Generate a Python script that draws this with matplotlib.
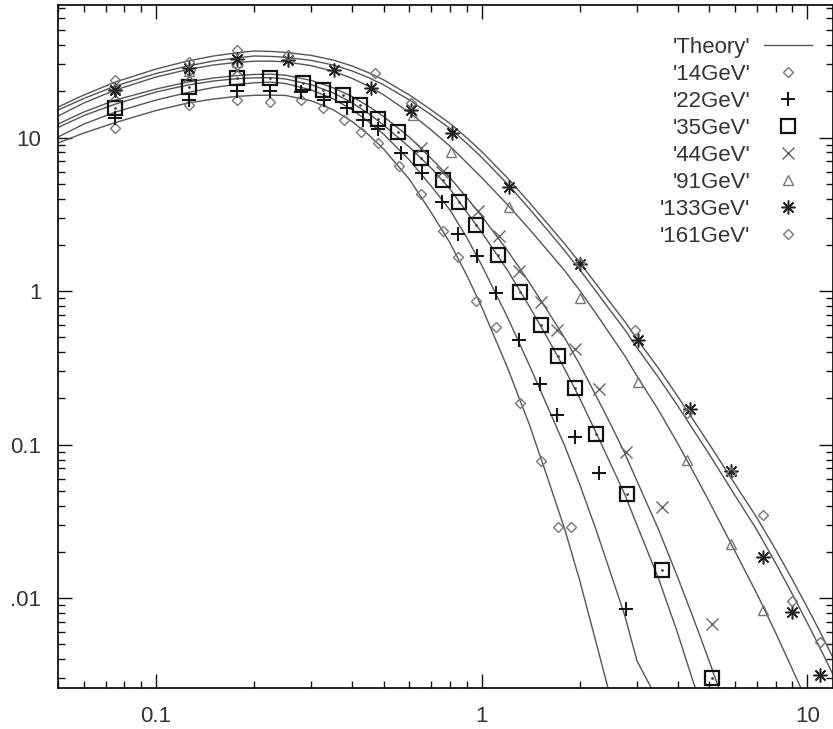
import matplotlib
matplotlib.use("Agg")
import matplotlib.pyplot as plt
from matplotlib.ticker import LogLocator, NullFormatter, FixedLocator, FixedFormatter

plt.rcParams['font.family'] = ['Liberation Sans', 'DejaVu Sans']

# ---- measured spectra -------------------------------------------------
p14 = [0.075, 0.126, 0.177, 0.224, 0.279, 0.326, 0.377, 0.425, 0.480, 0.556, 0.650, 0.759, 0.844, 0.959, 1.11, 1.31, 1.52, 1.72, 1.875]
d14 = [11.5, 16.3, 17.6, 17.0, 17.6, 15.6, 13.0, 10.9, 9.2, 6.5, 4.3, 2.46, 1.67, 0.86, 0.58, 0.186, 0.078, 0.029, 0.029]

p22 = [0.075, 0.126, 0.177, 0.224, 0.279, 0.328, 0.386, 0.432, 0.480, 0.564, 0.655, 0.754, 0.844, 0.965, 1.11, 1.30, 1.51, 1.71, 1.93, 2.29, 2.77]
d22 = [13.4, 17.6, 20.1, 20.1, 19.8, 17.6, 15.6, 13.0, 11.4, 7.9, 5.9, 3.8, 2.35, 1.69, 0.97, 0.48, 0.25, 0.156, 0.112, 0.065, 0.0085]

p35 = [0.075, 0.126, 0.177, 0.224, 0.282, 0.325, 0.375, 0.422, 0.480, 0.553, 0.650, 0.759, 0.850, 0.959, 1.12, 1.31, 1.52, 1.72, 1.93, 2.25, 2.79, 3.57, 5.11]
d35 = [15.6, 21.3, 24.4, 24.4, 22.7, 20.4, 18.9, 16.3, 13.2, 10.9, 7.35, 5.29, 3.80, 2.69, 1.72, 0.985, 0.60, 0.377, 0.233, 0.117, 0.0476, 0.0152, 0.0030]

p44 = [0.075, 0.126, 0.177, 0.650, 0.754, 0.975, 1.13, 1.30, 1.52, 1.71, 1.93, 2.29, 2.77, 3.57, 5.11]
d44 = [19.0, 25.0, 27.5, 8.6, 6.0, 3.3, 2.3, 1.36, 0.85, 0.56, 0.42, 0.23, 0.090, 0.039, 0.0068]

p91 = [0.075, 0.126, 0.177, 0.614, 0.803, 1.21, 2.01, 3.03, 4.28, 5.85, 7.33]
d91 = [21.0, 27.0, 31.0, 14.0, 8.05, 3.53, 0.90, 0.255, 0.079, 0.0225, 0.0084]

p133 = [0.075, 0.126, 0.177, 0.254, 0.352, 0.457, 0.606, 0.809, 1.21, 2.01, 3.03, 4.38, 5.85, 7.33, 9.0, 10.96]
d133 = [20.4, 28.4, 32.5, 32.0, 27.5, 21.0, 15.1, 10.7, 4.76, 1.50, 0.48, 0.170, 0.067, 0.0185, 0.0081, 0.00315]

p161 = [0.075, 0.126, 0.177, 0.254, 0.470, 0.606, 2.01, 2.95, 4.28, 5.85, 7.30, 8.99, 10.96]
d161 = [23.7, 31.0, 37.2, 34.5, 26.3, 16.8, 1.52, 0.557, 0.160, 0.0652, 0.0347, 0.0096, 0.0052]

# ---- theory curves (None: below the plotted range) -----------------------
grid = [0.05, 0.06, 0.075, 0.1, 0.125, 0.15, 0.175, 0.2, 0.225, 0.25,
        0.3, 0.35, 0.4, 0.45, 0.5, 0.6, 0.7, 0.8, 0.9, 1.0,
        1.2, 1.4, 1.6, 1.8, 2.0, 2.25, 2.5, 2.75, 3.0, 3.5,
        4.0, 4.5, 5.0, 6.0, 7.0, 8.0, 9.0, 10.0, 11.0, 12.0]
t14 = [9.21, 10.70, 12.52, 15.00, 16.78, 17.81, 18.50, 18.83, 18.89, 18.81,
       17.34, 15.18, 12.72, 10.41, 8.42, 5.35, 3.25, 2.058, 1.269, 0.791,
       0.318, 0.136, 0.0594, 0.0281, 0.0131, 0.00509, 0.00217, None, None, None,
       None, None, None, None, None, None, None, None, None, None]
t22 = [10.08, 12.24, 14.66, 17.55, 19.64, 21.17, 22.14, 22.72, 22.96, 22.48,
       20.42, 17.87, 15.18, 12.66, 10.51, 7.14, 4.83, 3.37, 2.235, 1.477,
       0.677, 0.331, 0.1737, 0.0981, 0.0553, 0.0276, 0.01418, 0.00775, 0.00391, 0.0021,
       None, None, None, None, None, None, None, None, None, None]
t35 = [11.62, 13.91, 16.53, 19.79, 21.98, 23.34, 24.12, 24.48, 24.56, 24.08,
       22.08, 19.55, 16.86, 14.29, 12.06, 8.67, 6.33, 4.62, 3.27, 2.42,
       1.370, 0.798, 0.487, 0.310, 0.2009, 0.1188, 0.0735, 0.0476, 0.0299, 0.01329,
       0.00592, 0.00271, 0.0016, None, None, None, None, None, None, None]
t44 = [12.24, 14.66, 17.55, 20.70, 22.99, 24.42, 25.27, 25.77, 25.88, 25.46,
       23.55, 21.10, 18.50, 15.97, 13.72, 10.06, 7.30, 5.48, 4.06, 3.085,
       1.839, 1.141, 0.734, 0.494, 0.3336, 0.2067, 0.1336, 0.0882, 0.0580, 0.0278,
       0.0137, 0.00714, 0.00389, 0.00131, None, None, None, None, None, None]
t91 = [13.81, 16.78, 20.39, 24.79, 27.73, 29.67, 30.81, 31.42, 31.46, 31.11,
       29.40, 27.04, 24.30, 21.56, 18.97, 14.57, 11.20, 8.78, 6.86, 5.49,
       3.66, 2.54, 1.822, 1.358, 1.011, 0.710, 0.511, 0.380, 0.2795, 0.1668,
       0.1021, 0.0646, 0.0426, 0.0202, 0.01072, 0.00595, 0.00345, 0.0021, None, None]
t133 = [15.10, 17.96, 21.66, 26.12, 29.24, 31.51, 32.96, 33.97, 33.77, 33.32,
        31.79, 29.68, 27.16, 24.53, 22.05, 17.58, 14.06, 11.45, 9.18, 7.44,
        4.99, 3.45, 2.47, 1.83, 1.382, 0.991, 0.734, 0.562, 0.428, 0.272,
        0.179, 0.122, 0.0866, 0.0467, 0.0279, 0.0169, 0.01063, 0.00692, 0.00464, 0.00318]
t161 = [15.80, 18.92, 22.99, 27.94, 31.51, 33.96, 35.52, 36.61, 36.39, 35.90,
        34.26, 31.98, 29.27, 26.43, 23.76, 18.94, 15.15, 12.34, 9.97, 8.11,
        5.46, 3.79, 2.72, 2.03, 1.536, 1.109, 0.827, 0.636, 0.487, 0.312,
        0.2064, 0.1416, 0.1009, 0.0553, 0.0335, 0.0207, 0.01322, 0.00872, 0.00592, 0.00410]

labels = ["'14GeV'", "'22GeV'", "'35GeV'", "'44GeV'", "'91GeV'", "'133GeV'", "'161GeV'"]
x_ticks = [0.1, 1, 10]
x_tick_labels = ['0.1', '1', '10']
y_ticks = [0.01, 0.1, 1, 10]
y_tick_labels = ['.01', '0.1', '1', '10']

fig = plt.figure(figsize=(8.33, 7.29), dpi=100)
ax = fig.add_axes([58 / 833, 41 / 729, 775 / 833, 683 / 729])
ax.set_xscale('log')
ax.set_yscale('log')
ax.set_xlim(0.05, 12)
ax.set_ylim(0.0026, 73)

line_color = '#555555'
first = True
for t in (t14, t22, t35, t44, t91, t133, t161):
    xs = [g for g, v in zip(grid, t) if v is not None]
    ys = [v for v in t if v is not None]
    ax.plot(xs, ys, color=line_color, lw=1.0, label="'Theory'" if first else None,
            solid_joinstyle='round', zorder=2)
    first = False

styles = [
    dict(marker='D', ms=5.0, mfc='none', mec='#777777', mew=1.0),
    dict(marker='+', ms=10, mec='#111111', mew=1.4),
    dict(marker='s', ms=10, mfc='none', mec='#111111', mew=1.6),
    dict(marker='x', ms=8, mec='#666666', mew=1.0),
    dict(marker='^', ms=7, mfc='none', mec='#777777', mew=1.0),
    dict(marker=(8, 2, 0), ms=10, mec='#222222', mew=1.1),
    dict(marker='D', ms=5.0, mfc='none', mec='#777777', mew=1.0),
]
series = [(p14, d14), (p22, d22), (p35, d35), (p44, d44), (p91, d91), (p133, d133), (p161, d161)]
for (px, py), st, lab in zip(series, styles, labels):
    ax.plot(px, py, ls='none', label=lab, zorder=3, **st)
# centre dots of the square points
ax.plot(p35, d35, ls='none', marker='.', ms=2, color='#444444', zorder=4)

ax.xaxis.set_major_locator(FixedLocator(x_ticks))
ax.xaxis.set_major_formatter(FixedFormatter(x_tick_labels))
ax.yaxis.set_major_locator(FixedLocator(y_ticks))
ax.yaxis.set_major_formatter(FixedFormatter(y_tick_labels))
ax.xaxis.set_minor_locator(LogLocator(base=10, subs=range(2, 10)))
ax.yaxis.set_minor_locator(LogLocator(base=10, subs=range(2, 10)))
ax.xaxis.set_minor_formatter(NullFormatter())
ax.yaxis.set_minor_formatter(NullFormatter())
ax.tick_params(which='both', direction='in', top=True, right=True, colors='#111111', width=1.0,
               labelsize=16, labelcolor='#333333')
ax.tick_params(which='major', length=10)
ax.tick_params(which='minor', length=5)
ax.tick_params(axis='x', pad=13)
ax.tick_params(axis='y', pad=12)
for s in ax.spines.values():
    s.set_linewidth(1.3)
    s.set_color('#111111')

leg = ax.legend(loc='upper right', bbox_to_anchor=(0.985, 0.966), frameon=False, fontsize=16,
                markerfirst=False, handlelength=2.2, labelspacing=0.27, handletextpad=0.6,
                borderaxespad=0)
for txt in leg.get_texts():
    txt.set_color('#333333')
    txt.set_ha('right')

fig.savefig('out.png', dpi=100)
